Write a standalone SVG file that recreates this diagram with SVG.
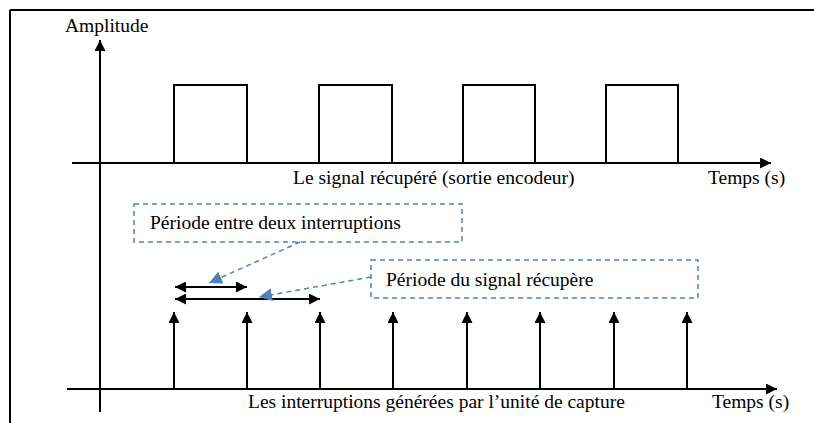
<svg xmlns="http://www.w3.org/2000/svg" width="814" height="423" viewBox="0 0 814 423">
<defs>
<marker id="ah" viewBox="0 0 10 10" refX="10" refY="5" markerWidth="11" markerHeight="11" markerUnits="userSpaceOnUse" orient="auto-start-reverse"><path d="M0,0 L10,5 L0,10 Z" fill="#000"/></marker>
<marker id="ahb" viewBox="0 0 10 10" refX="10" refY="5" markerWidth="13" markerHeight="13" markerUnits="userSpaceOnUse" orient="auto"><path d="M0,0 L10,5 L0,10 Z" fill="#4F81BD"/></marker>
</defs>
<rect width="814" height="423" fill="#fff"/>
<g id="frame" stroke="#000" stroke-width="2" fill="none">
<line x1="10" y1="10" x2="814" y2="10"/>
<line x1="10" y1="10" x2="10" y2="423"/>
</g>
<g id="axes" stroke="#000" stroke-width="2" fill="none" marker-end="url(#ah)">
<line x1="100" y1="412" x2="100" y2="40"/>
<line x1="72" y1="163" x2="771" y2="163"/>
<line x1="67" y1="389" x2="777" y2="389"/>
</g>
<g id="signal">
<path stroke="#000" stroke-width="2" fill="none" d="M174,163 V85 H247 V163 M319,163 V85 H392 V163 M463,163 V85 H535 V163 M606,163 V85 H678 V163"/>
</g>
<g id="interrupts" stroke="#000" stroke-width="2" fill="none">
<line x1="174" y1="389" x2="174" y2="312" marker-end="url(#ah)"/>
<line x1="247" y1="389" x2="247" y2="312" marker-end="url(#ah)"/>
<line x1="320" y1="389" x2="320" y2="312" marker-end="url(#ah)"/>
<line x1="393" y1="389" x2="393" y2="312" marker-end="url(#ah)"/>
<line x1="467" y1="389" x2="467" y2="312" marker-end="url(#ah)"/>
<line x1="540" y1="389" x2="540" y2="312" marker-end="url(#ah)"/>
<line x1="614" y1="389" x2="614" y2="312" marker-end="url(#ah)"/>
<line x1="687" y1="389" x2="687" y2="312" marker-end="url(#ah)"/>
</g>
<g id="periods" stroke="#000" stroke-width="2" fill="none">
<line x1="175" y1="287" x2="247" y2="287" marker-start="url(#ah)" marker-end="url(#ah)"/>
<line x1="175" y1="299" x2="320" y2="299" marker-start="url(#ah)" marker-end="url(#ah)"/>
</g>
<g id="box1">
<rect x="134" y="204" width="328" height="38" fill="none" stroke="#4F81BD" stroke-width="1.5" stroke-dasharray="5,4"/>
<text x="150" y="229" font-family="Liberation Serif" font-size="19.5">Période entre deux interruptions</text>
</g>
<g id="box2">
<rect x="371" y="260" width="327" height="38" fill="none" stroke="#4F81BD" stroke-width="1.5" stroke-dasharray="5,4"/>
<text x="386" y="286" font-family="Liberation Serif" font-size="19.5">Période du signal récupère</text>
</g>
<g id="connectors" stroke="#4F81BD" stroke-width="1.5" stroke-dasharray="5,4" fill="none">
<line x1="300" y1="242" x2="209" y2="283" marker-end="url(#ahb)"/>
<line x1="371" y1="277" x2="259" y2="297" marker-end="url(#ahb)"/>
</g>
<g id="labels">
<text x="65" y="32" font-family="Liberation Serif" font-size="19.5">Amplitude</text>
<text x="293" y="184" font-family="Liberation Serif" font-size="19.5">Le signal récupéré (sortie encodeur)</text>
<text x="708" y="184" font-family="Liberation Serif" font-size="19.5">Temps (s)</text>
<text x="248" y="408" font-family="Liberation Serif" font-size="19.5">Les interruptions générées par l’unité de capture</text>
<text x="712" y="408" font-family="Liberation Serif" font-size="19.5">Temps (s)</text>
</g>
</svg>
